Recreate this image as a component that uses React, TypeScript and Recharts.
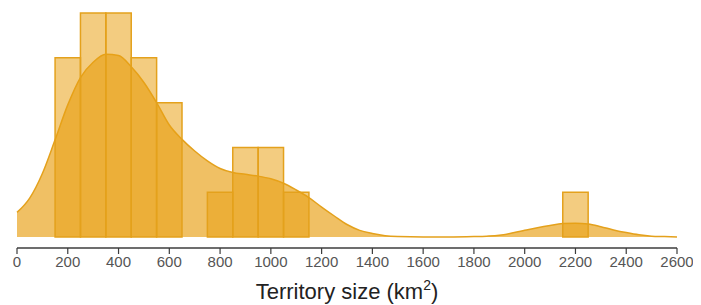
import { ComposedChart, Area, XAxis, YAxis, ReferenceArea, Label } from "recharts";

// histogram bins (km2), width 100
const binStarts = [150, 250, 350, 450, 550, 750, 850, 950, 1050, 2150];
const binCounts = [4, 5, 5, 4, 3, 1, 2, 2, 1, 1];
const binWidth = 100;

// kernel density, scaled to counts
const densityX = [
  0, 50, 100, 150, 200, 250, 300, 350, 400, 450, 500, 550, 600, 650, 700, 750, 800, 850, 900, 950, 1000,
  1050, 1100, 1150, 1200, 1250, 1300, 1350, 1400, 1450, 1500, 1600, 1700, 1800, 1850, 1900, 1950, 2000,
  2050, 2100, 2150, 2200, 2250, 2300, 2350, 2400, 2450, 2500, 2550, 2600,
];
const densityY = [
  0.55, 0.87, 1.42, 2.17, 2.95, 3.56, 3.9, 4.08, 4.05, 3.8, 3.45, 3.0, 2.5, 2.18, 1.92, 1.7, 1.53, 1.44, 1.4, 1.36, 1.3,
  1.2, 1.05, 0.88, 0.67, 0.47, 0.28, 0.15, 0.08, 0.03, 0.01, 0, 0, 0.01, 0.02, 0.04, 0.09, 0.15,
  0.21, 0.26, 0.3, 0.31, 0.29, 0.23, 0.16, 0.1, 0.05, 0.02, 0.01, 0,
];

const xTicks = [0, 200, 400, 600, 800, 1000, 1200, 1400, 1600, 1800, 2000, 2200, 2400, 2600];

const gold = "#E8A014";
const edge = "#E4A11C";

const data = densityX.map((x, i) => ({ x, y: densityY[i] }));

export default function App() {
  return (
    <div style={{ fontFamily: "'Liberation Sans', Arial, sans-serif" }}>
      <ComposedChart width={685} height={297} data={data} margin={{ top: 5, right: 16, left: 9, bottom: 0 }}>
        <YAxis hide type="number" domain={[-0.244, 5]} allowDataOverflow />
        <XAxis
          dataKey="x"
          type="number"
          domain={[0, 2600]}
          ticks={xTicks}
          interval={0}
          height={57}
          axisLine={{ stroke: "#3c3c3c", strokeWidth: 1.5 }}
          tickLine={{ stroke: "#3c3c3c", strokeWidth: 1.2 }}
          tickSize={6}
          tickMargin={2}
          tick={{ fill: "#555", fontSize: 15 }}
        >
          <Label
            content={({ viewBox }: any) => (
              <text
                x={viewBox.x + viewBox.width / 2}
                y={viewBox.y + 51}
                textAnchor="middle"
                fill="#222"
                fontSize={22}
              >
                Territory size (km
                <tspan dy={-9} fontSize={14}>2</tspan>
                <tspan dy={9}>)</tspan>
              </text>
            )}
          />
        </XAxis>
        <Area
          type="monotone"
          dataKey="y"
          baseValue={0}
          fill={gold}
          fillOpacity={0.66}
          stroke={edge}
          strokeWidth={1.5}
          isAnimationActive={false}
          dot={false}
          activeDot={false}
        />
        {binStarts.map((b, i) => (
          <ReferenceArea
            key={b}
            x1={b}
            x2={b + binWidth}
            y1={0}
            y2={binCounts[i]}
            fill={gold}
            fillOpacity={0.54}
            stroke={edge}
            strokeWidth={1.5}
            strokeOpacity={1}
            ifOverflow="visible"
          />
        ))}
      </ComposedChart>
    </div>
  );
}
